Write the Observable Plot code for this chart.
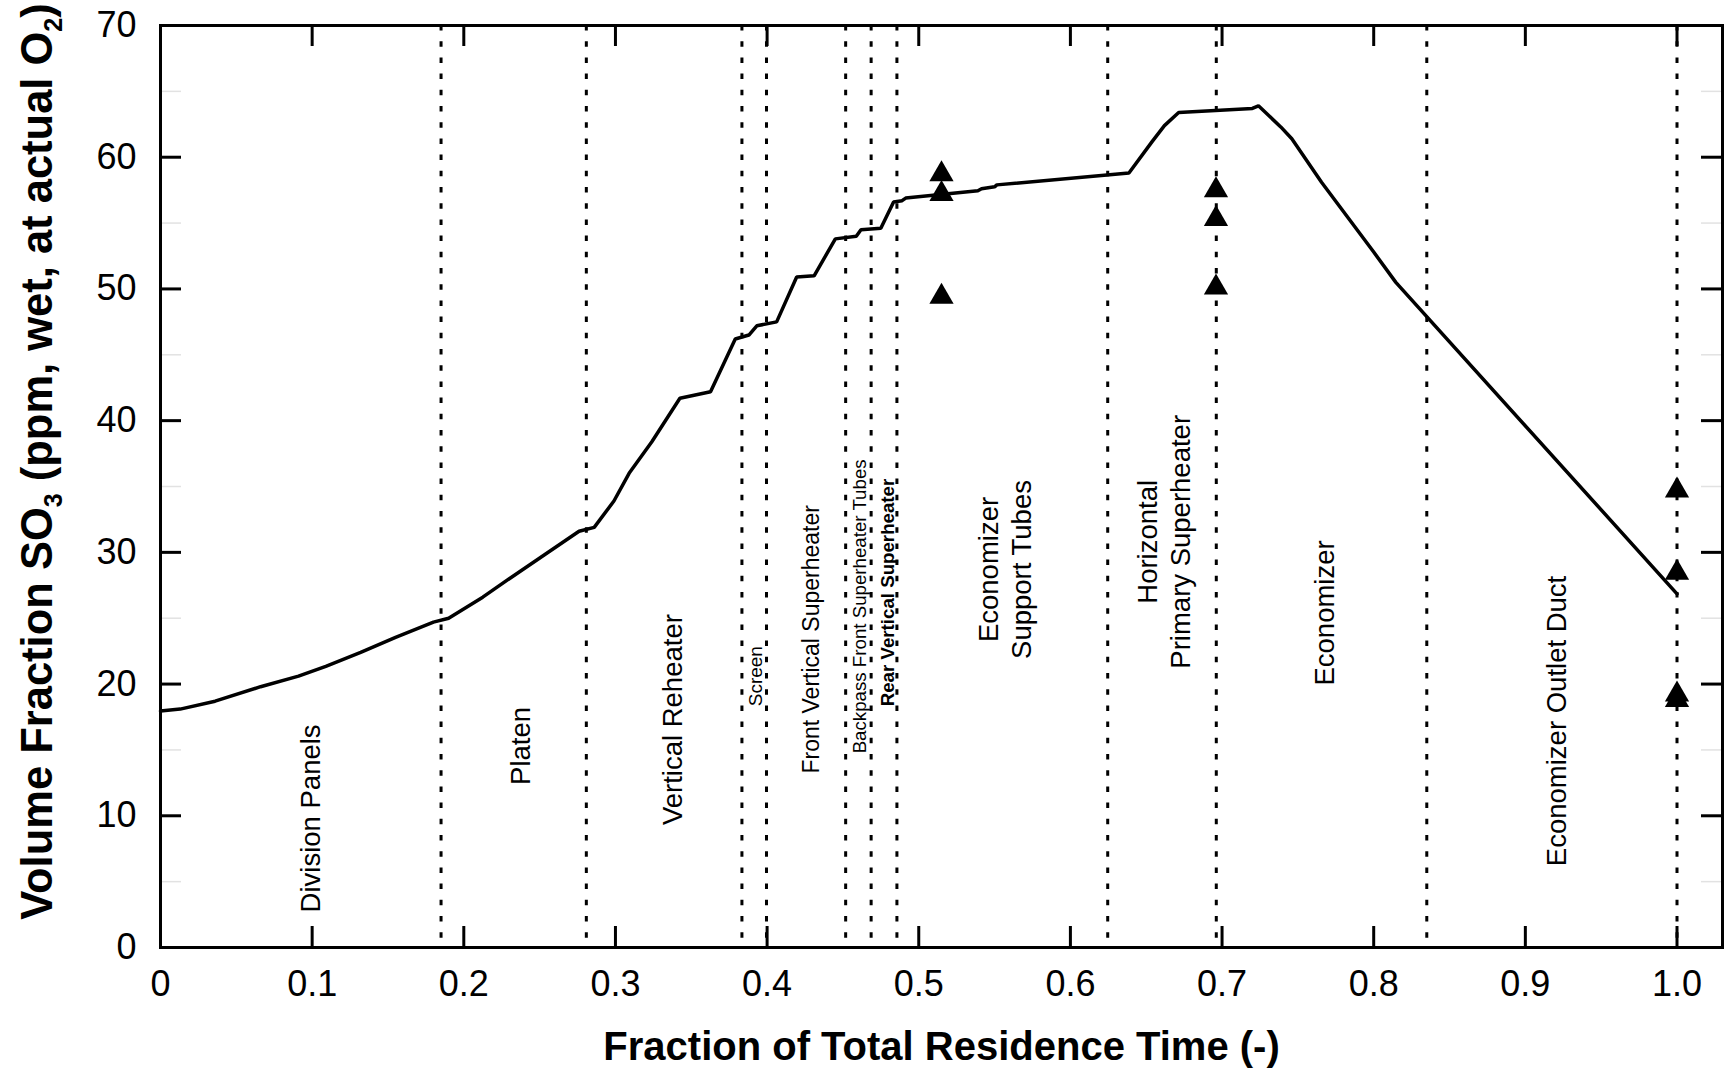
<!DOCTYPE html>
<html>
<head>
<meta charset="utf-8">
<script src="https://cdn.jsdelivr.net/npm/d3@7"></script>
<script src="https://cdn.jsdelivr.net/npm/@observablehq/plot@0.6"></script>
<style>
  html, body { margin: 0; padding: 0; background: #fff; }
  #chart { width: 1732px; height: 1071px; }
</style>
</head>
<body>
<div id="chart"></div>
<script>
// SO3 volume fraction along the flue-gas path (predicted curve) and measured values (triangles)
const residenceFraction = [0, 0.013, 0.036, 0.066, 0.091, 0.109, 0.132, 0.155, 0.180, 0.190, 0.2125, 0.230, 0.253, 0.276, 0.286,
  0.299, 0.309, 0.324, 0.3425, 0.3627, 0.379, 0.388, 0.3932, 0.4063, 0.4195, 0.431, 0.445, 0.4588, 0.4619, 0.475, 0.4834,
  0.489, 0.4914, 0.539, 0.5414, 0.550, 0.5515, 0.6386, 0.654, 0.662, 0.6714, 0.720, 0.724, 0.7387, 0.746, 0.7656, 0.800, 0.8146, 1.0];
const so3Predicted = [17.95, 18.1, 18.7, 19.8, 20.6, 21.35, 22.4, 23.55, 24.7, 25.0, 26.6, 28.0, 29.8, 31.6, 31.9,
  33.9, 36.0, 38.4, 41.7, 42.2, 46.2, 46.5, 47.2, 47.5, 50.9, 51.0, 53.8, 54.0, 54.5, 54.6, 56.6,
  56.7, 56.9, 57.45, 57.6, 57.75, 57.9, 58.8, 61.2, 62.4, 63.4, 63.7, 63.9, 62.3, 61.4, 58.1, 52.8, 50.5, 26.85];

// measured SO3 at three sampling locations
const measuredFraction = [0.515, 0.515, 0.515, 0.696, 0.696, 0.696, 1.0, 1.0, 1.0, 1.0];
const so3Measured = [58.7, 57.2, 49.4, 57.5, 55.3, 50.1, 34.7, 28.45, 19.2, 18.8];

// boundaries between heat-transfer sections
const sectionBoundaries = [0.185, 0.2808, 0.3834, 0.3996, 0.4518, 0.4686, 0.4856, 0.6246, 0.6962, 0.835, 1.0];

// section names and where they sit (fraction, ppm)
const sectionNames = ["Division Panels", "Platen", "Vertical Reheater", "Screen", "Front Vertical Superheater",
  "Backpass Front Superheater Tubes", "Rear Vertical Superheater", "Economizer\nSupport Tubes",
  "Horizontal\nPrimary Superheater", "Economizer", "Economizer Outlet Duct"];
const sectionNameX = [0.0985, 0.237, 0.337, 0.392, 0.4286, 0.4606, 0.4795, 0.556, 0.661, 0.767, 0.920];
const sectionNameY = [9.8, 15.3, 17.3, 20.6, 23.4, 25.9, 26.95, 28.7, 30.8, 25.4, 17.2];

// axes
const xTicks = [0, 0.1, 0.2, 0.3, 0.4, 0.5, 0.6, 0.7, 0.8, 0.9, 1.0];
const xTickLabels = ["0", "0.1", "0.2", "0.3", "0.4", "0.5", "0.6", "0.7", "0.8", "0.9", "1.0"];
const yTicks = [0, 10, 20, 30, 40, 50, 60, 70];
const yTickLabels = ["0", "10", "20", "30", "40", "50", "60", "70"];
const yMinorTicks = [5, 15, 25, 35, 45, 55, 65];
const xTitle = "Fraction of Total Residence Time (-)";
const yTitle = "Volume Fraction SO3 (ppm, wet, at actual O2)";

// ---- build tables ----
const curve = residenceFraction.map((x, i) => ({x, y: so3Predicted[i]}));
const measured = measuredFraction.map((x, i) => ({x, y: so3Measured[i]}));
const sections = sectionNames.map((name, i) => ({name, x: sectionNameX[i], y: sectionNameY[i]}));

const labelSize = {
  "Screen": 19, "Front Vertical Superheater": 23, "Backpass Front Superheater Tubes": 18.7,
  "Rear Vertical Superheater": 18.7
};
const W = 1732, H = 1071;
const mL = 160, mR = 10, mT = 25, mB = 124;
const innerW = W - mL - mR, innerH = H - mT - mB;
const tickLen = 21;
const font = "'Liberation Sans', Arial, Helvetica, sans-serif";

const innerX = xTicks.filter(d => d > 0);
const innerY = yTicks.filter(d => d > 0 && d < 70);

const svg = Plot.plot({
  width: W,
  height: H,
  marginLeft: mL, marginRight: mR, marginTop: mT, marginBottom: mB,
  x: {domain: [0, 1.03]},
  y: {domain: [0, 70]},
  style: {fontFamily: font, background: "#fff", color: "#000"},
  marks: [
    // dotted section boundaries
    Plot.ruleX(sectionBoundaries, {stroke: "#000", strokeWidth: 3, strokeDasharray: "5.5,10.7"}),
    // faint minor ticks
    Plot.tickY(yMinorTicks, {y: d => d, stroke: "#e2e2e2", strokeWidth: 1.5, insetRight: innerW - tickLen}),
    Plot.tickY(yMinorTicks, {y: d => d, stroke: "#e2e2e2", strokeWidth: 1.5, insetLeft: innerW - tickLen}),
    // inward major ticks on all four sides
    Plot.tickY(innerY, {y: d => d, stroke: "#000", strokeWidth: 3, insetRight: innerW - tickLen}),
    Plot.tickY(innerY, {y: d => d, stroke: "#000", strokeWidth: 3, insetLeft: innerW - tickLen}),
    Plot.tickX(innerX, {x: d => d, stroke: "#000", strokeWidth: 3, insetTop: innerH - tickLen}),
    Plot.tickX(innerX, {x: d => d, stroke: "#000", strokeWidth: 3, insetBottom: innerH - tickLen}),
    Plot.frame({stroke: "#000", strokeWidth: 3}),
    // predicted profile
    Plot.line(curve, {x: "x", y: "y", stroke: "#000", strokeWidth: 3.5, strokeLinejoin: "miter"}),
    // measurements
    Plot.dot(measured, {x: "x", y: "y", symbol: "triangle", r: 9, fill: "#000", stroke: "none"}),
    // section names
    Plot.text(sections.filter(d => d.name !== "Rear Vertical Superheater"), {
      x: "x", y: "y", text: "name", rotate: -90, textAnchor: "middle", lineHeight: 1.2,
      fontSize: d => labelSize[d.name] || 27.5, fill: "#000"
    }),
    Plot.text(sections.filter(d => d.name === "Rear Vertical Superheater"), {
      x: "x", y: "y", text: "name", rotate: -90, textAnchor: "middle",
      fontSize: 18.7, fontWeight: "bold", fill: "#000"
    }),
    // tick labels
    Plot.axisX({ticks: xTicks, tickFormat: d => xTickLabels[xTicks.indexOf(d)], tickSize: 0, tickPadding: 23,
      fontSize: 36, label: null}),
    Plot.axisY({ticks: yTicks, tickFormat: d => yTickLabels[yTicks.indexOf(d)], tickSize: 0, tickPadding: 24,
      fontSize: 36, label: null}),
    // axis titles
    Plot.text([xTitle], {frameAnchor: "bottom", dy: 100, text: d => d, textAnchor: "middle", lineAnchor: "middle",
      fontSize: 40, fontWeight: "bold", fill: "#000"}),
    Plot.text([yTitle], {frameAnchor: "left", dx: -122, dy: -25, rotate: -90, text: d => d,
      textAnchor: "middle", lineAnchor: "middle", fontSize: 43.5, fontWeight: "bold", fill: "#000"})
  ]
});

// subscripts in the y title
d3.select(svg).selectAll("text").filter(function() { return this.textContent === yTitle; }).each(function() {
  const t = d3.select(this);
  t.text(null);
  const parts = [["Volume Fraction SO", 0], ["3", 1], [" (ppm, wet, at actual O", 0], ["2", 1], [")", 0]];
  let shifted = false;
  for (const [s, sub] of parts) {
    const span = t.append("tspan").text(s);
    if (sub) { span.attr("font-size", 25).attr("dy", 10); shifted = true; }
    else if (shifted) { span.attr("dy", -10); shifted = false; }
  }
});

document.getElementById("chart").appendChild(svg);
</script>
</body>
</html>
